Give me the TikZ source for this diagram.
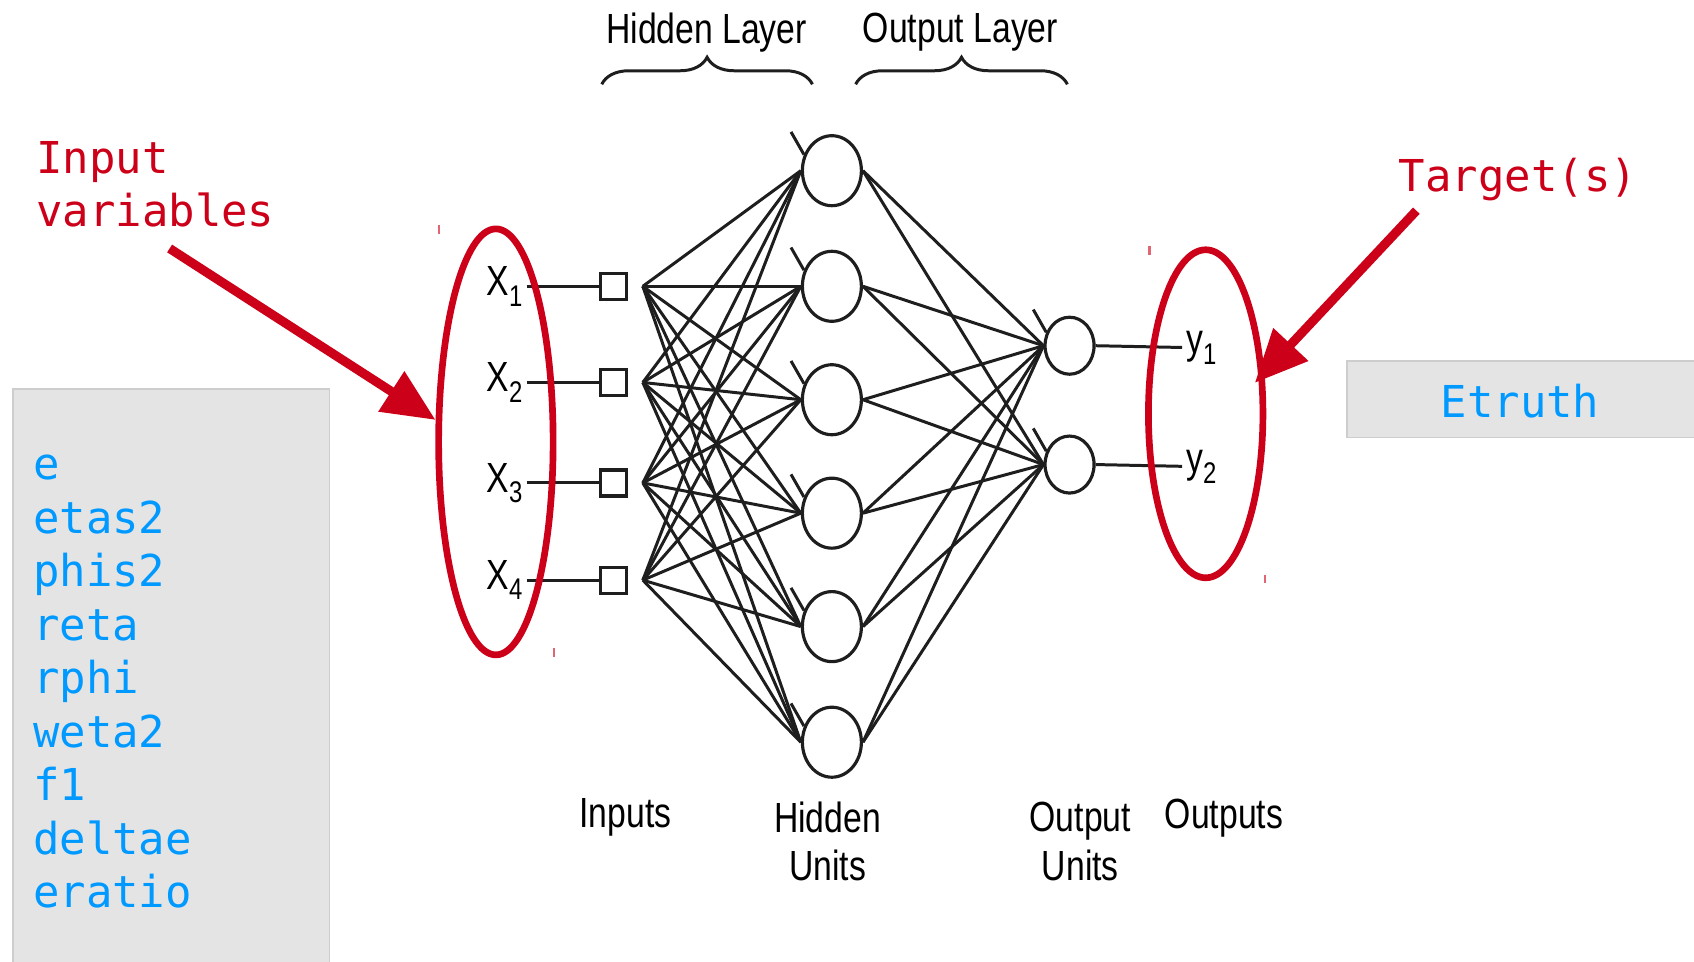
\documentclass[tikz,border=0pt]{standalone}
\usepackage{fontspec}
\usepackage{tikz}
\usetikzlibrary{shapes.geometric, arrows.meta, decorations.pathreplacing}

\newfontfamily\codefont{DejaVu Sans Mono}
\newfontfamily\labelfont[FakeStretch=0.8]{Liberation Sans}
\newcommand\lowsub[1]{\raisebox{-3pt}{\fontsize{8.5}{8.5}\selectfont #1}}
\definecolor{markred}{RGB}{204,0,24}
\definecolor{varblue}{RGB}{0,153,255}
\definecolor{boxgray}{RGB}{228,228,228}
\definecolor{boxline}{RGB}{205,205,205}
\definecolor{netline}{RGB}{30,30,30}

\begin{document}
\begin{tikzpicture}[x=0.010804cm, y=-0.010804cm,
                    font=\labelfont\fontsize{12}{13.8}\selectfont]
        % Setup the styles
        \tikzset{unit style/.style={ellipse, draw=netline, line width=0.9pt,
                                    minimum width=0.59cm, minimum height=0.70cm, inner sep=0pt},
                 out style/.style={unit style, minimum width=0.49cm, minimum height=0.57cm},
                 input style/.style={rectangle, draw=netline, line width=0.9pt,
                                     minimum size=0.26cm, inner sep=0pt},
                 net line/.style={draw=netline, line width=0.85pt},
                 ring style/.style={ellipse, draw=markred, line width=1.9pt, inner sep=0pt},
                 mark arrow/.style={draw=markred, fill=markred, line width=2.6pt,
                                    -{Triangle[length=15pt,width=13pt]}},
                 code text/.style={font=\codefont\fontsize{12.5}{15.2}\selectfont, inner sep=0pt},
                 gray box/.style={fill=boxgray, draw=boxline, line width=0.5pt}}

        \useasboundingbox (0,0) rectangle (1568,890);

        % Draw the gray boxes
        \path[gray box] (12,360) rectangle (305,900);
        \path[gray box] (1247,334) rectangle (1580,405);

        % Draw the layer titles and braces
        \node (hidtitle) at (654,30) {Hidden Layer};
        \node (outtitle) at (889,30) {Output Layer};
        \draw[net line, decorate, decoration={brace, amplitude=0.27cm}] (557,78) -- (752,78);
        \draw[net line, decorate, decoration={brace, amplitude=0.27cm}] (792,78) -- (988,78);

        % Draw the units
        \foreach \i/\y in {1/158, 2/265, 3/370, 4/475, 5/580, 6/687}
            \node[unit style] (h\i) at (770,\y) {};
        \node[out style] (o1) at (990,320) {};
        \node[out style] (o2) at (990,430) {};
        \foreach \i/\y in {1/265, 2/354, 3/447, 4/537} {
            \node[inner sep=1pt] (x\i) at (467,\y) {X\lowsub{\i}};
            \node[input style] (s\i) at (568,\y) {};
            \coordinate (f\i) at (595,\y);
            \draw[net line] (x\i) -- (s\i);
        }
        \node[inner sep=1pt] (y1) at (1112,322) {y\lowsub{1}};
        \node[inner sep=1pt] (y2) at (1112,432) {y\lowsub{2}};
        \draw[net line] (o1.east) -- (y1);
        \draw[net line] (o2.east) -- (y2);

        % Connect the units
        \foreach \i in {1,...,4}
            \foreach \j in {1,...,6}
                \draw[net line] (f\i) -- (h\j.west);
        \foreach \j in {1,...,6}
            \foreach \k in {1,2}
                \draw[net line] (h\j.east) -- (o\k.west);
        \foreach \n in {h1,h2,h3,h4,h5,h6,o1,o2}
            \draw[net line] (\n.150) -- ++(-12,-21);

        % Bottom labels
        \node (inlabel) at (579,757) {Inputs};
        \node[align=center] (hidlabel) at (766,779) {Hidden\\Units};
        \node[align=center] (outunits) at (1000,779) {Output\\Units};
        \node (outlabel) at (1133,757) {Outputs};

        % Red marks
        \node[ring style, minimum width=1.145cm, minimum height=4.26cm] (inring) at (459,409) {};
        \node[ring style, minimum width=1.145cm, minimum height=3.28cm] (outring) at (1116,383) {};
        \node[code text, text=markred, align=left, anchor=north west] (invars) at (33,130) {Input\\variables};
        \node[code text, text=markred] (target) at (1405,166) {Target(s)};
        \coordinate (intail) at (157,230);
        \coordinate (targettail) at (1311,195);
        \draw[mark arrow] (intail) -- (inring.160);
        \draw[mark arrow, shorten >=-4pt] (targettail) -- (outring.35);
        \draw[markred!60, line width=0.6pt] (406,208) -- (406,217) (513,600) -- (513,608)
                                           (1064,228) -- (1064,236) (1171,532) -- (1171,540);

        % Variable names
        \foreach \v [count=\n] in {e,etas2,phis2,reta,rphi,weta2,f1,deltae,eratio}
            \node[code text, text=varblue, anchor=base west] (var\n) at (30,394.5+49.5*\n) {\v};
        \node[code text, text=varblue] (etruth) at (1407,371) {Etruth};
\end{tikzpicture}
\end{document}
